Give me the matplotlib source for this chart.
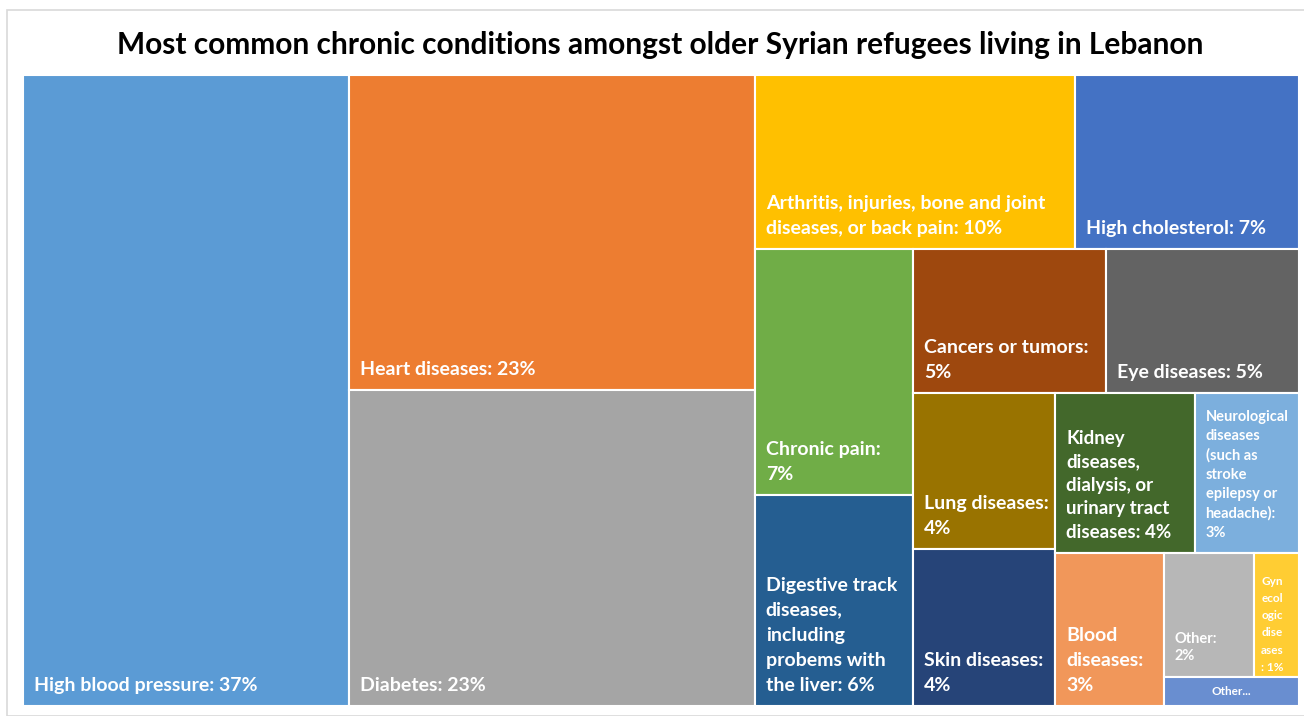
import matplotlib.pyplot as plt
from matplotlib.patches import Rectangle

plt.rcParams['font.family'] = ['Lato', 'DejaVu Sans']

# share of respondents reporting each condition (%)
names = [
    "High blood pressure: ",
    "Heart diseases: ",
    "Diabetes: ",
    "Arthritis, injuries, bone and joint\ndiseases, or back pain: ",
    "High cholesterol: ",
    "Chronic pain:\n",
    "Digestive track\ndiseases,\nincluding\nprobems with\nthe liver: ",
    "Cancers or tumors:\n",
    "Eye diseases: ",
    "Lung diseases:\n",
    "Skin diseases:\n",
    "Kidney\ndiseases,\ndialysis, or\nurinary tract\ndiseases: ",
    "Neurological\ndiseases\n(such as\nstroke\nepilepsy or\nheadache):\n",
    "Blood\ndiseases:\n",
    "Other:\n",
    "Gyn\necol\nogic\ndise\nases\n: ",
    "Other...",
]
values = [37, 23, 23, 10, 7, 7, 6, 5, 5, 4, 4, 4, 3, 3, 2, 1, 0.7]
show_value = [True] * 16 + [False]
colors = ['#5B9BD5', '#ED7D31', '#A5A5A5', '#FFC000', '#4472C4', '#70AD47',
          '#255E91', '#9E480E', '#636363', '#997300', '#264478', '#43682B',
          '#7CAFDD', '#F1975A', '#B7B7B7', '#FFCD33', '#698ED0']
font_sizes = [14] * 11 + [13.5, 10.5, 14, 10.5, 8.5, 8.5]
spacing = [1.58] * 11 + [1.46, 1.46, 1.58, 1.3, 1.7, 1.2]
pad_left = [11] * 14 + [10, 7, 0]
pad_bottom = [12] * 12 + [13, 12, 14, 4, 0]

# how many tiles go into each strip of the treemap
strips = [1, 2, 2, 2, 2, 2, 2, 1, 2, 1]


def treemap(vals, strips, x, y, w, h):
    rects = []
    i = 0
    for n in strips:
        group = vals[i:i + n]
        rest = sum(vals[i:])
        s = sum(group)
        if w >= h:
            # strip runs down the left side
            cw = w * s / rest
            yy = y
            for v in group:
                ch = h * v / s
                rects.append((x, yy, cw, ch))
                yy += ch
            x += cw
            w -= cw
        else:
            # strip runs along the top
            rh = h * s / rest
            xx = x
            for v in group:
                cw = w * v / s
                rects.append((xx, y, cw, rh))
                xx += cw
            y += rh
            h -= rh
        i += n
    return rects


W, H = 1304, 716
fig = plt.figure(figsize=(W / 100, H / 100), dpi=100)

# chart frame
fig.patches.append(Rectangle((7 / W, 0), 1, 1 - 10 / H, transform=fig.transFigure,
                             fill=False, edgecolor='#D9D9D9', linewidth=1.2))

left, top, right, bottom = 22.7, 74.7, 1299, 706
pw, ph = right - left, bottom - top
ax = fig.add_axes([left / W, 1 - bottom / H, pw / W, ph / H])
ax.set_xlim(0, pw)
ax.set_ylim(ph, 0)
ax.axis('off')

rects = treemap(values, strips, 0, 0, pw, ph)
for k, (x, y, w, h) in enumerate(rects):
    ax.add_patch(Rectangle((x, y), w, h, facecolor=colors[k], edgecolor='white', linewidth=1.5))
    if show_value[k]:
        ax.text(x + pad_left[k], y + h - pad_bottom[k], f"{names[k]}{values[k]:g}%",
                color='white', fontsize=font_sizes[k], fontweight='bold',
                ha='left', va='bottom', linespacing=spacing[k])
    else:
        ax.text(x + w / 2, y + h / 2, names[k], color='white', fontsize=font_sizes[k],
                fontweight='bold', ha='center', va='center')

fig.text(0.506, 1 - 45 / H,
         "Most common chronic conditions amongst older Syrian refugees living in Lebanon",
         ha='center', va='center', fontsize=21.5, fontweight='bold', color='black')

fig.savefig('out.png', dpi=100, facecolor='white')
